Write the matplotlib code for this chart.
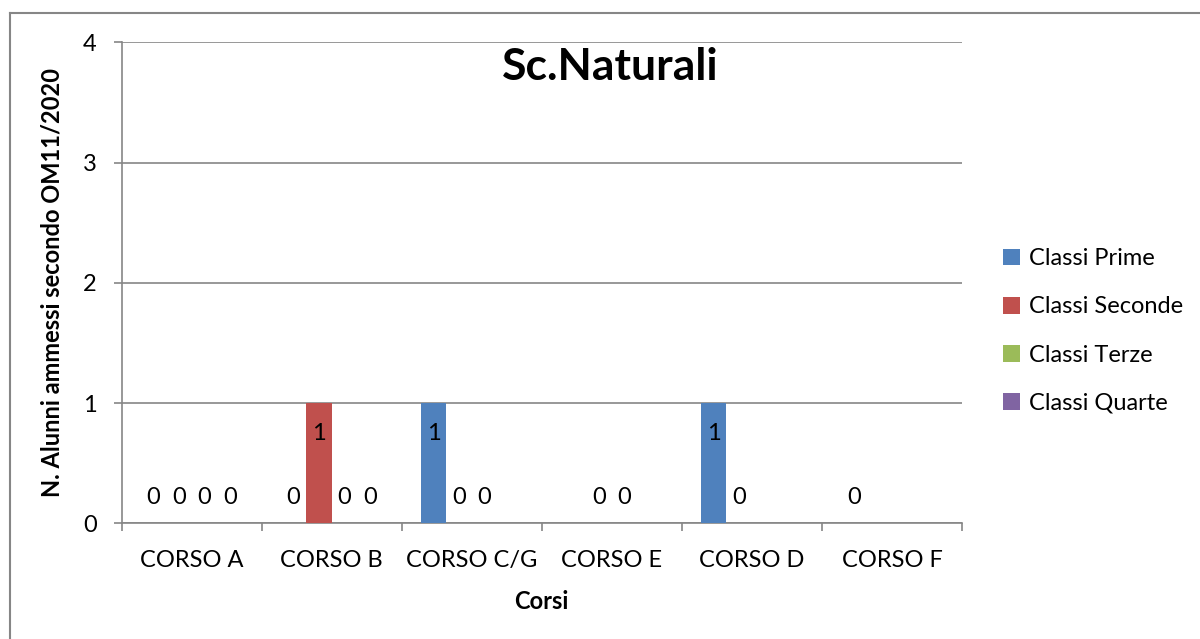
import numpy as np
import matplotlib
matplotlib.use("Agg")
import matplotlib.pyplot as plt
from matplotlib.patches import Patch
from matplotlib.lines import Line2D

plt.rcParams['font.family'] = ['Lato', 'DejaVu Sans']

categories = ["CORSO A", "CORSO B", "CORSO C/G", "CORSO E", "CORSO D", "CORSO F"]
series_names = ["Classi Prime", "Classi Seconde", "Classi Terze", "Classi Quarte"]
nan = np.nan
prime   = [0, 0, 1, nan, 1, 0]
seconde = [0, 1, 0, 0, 0, nan]
terze   = [0, 0, 0, 0, nan, nan]
quarte  = [0, 0, nan, nan, nan, nan]
series = [prime, seconde, terze, quarte]
colors = ["#4F81BD", "#C0504D", "#9BBB59", "#8064A2"]
yticks = [0, 1, 2, 3, 4]

FS = 17
fig = plt.figure(figsize=(12, 6.39), dpi=100)
ax = fig.add_axes([0.10125, 0.1808, 0.70045, 0.7527])

n = len(series)
x = np.arange(len(categories))
width = 1 / (n + 1.5)
for i, (vals, c, name) in enumerate(zip(series, colors, series_names)):
    pos = x + (i - (n - 1) / 2) * width
    v = np.array(vals, dtype=float)
    ax.bar(pos, np.nan_to_num(v), width=width, color=c, label=name, zorder=3)
    for px, val in zip(pos, v):
        if np.isnan(val):
            continue
        if val > 0:
            ax.annotate(f"{int(val)}", (px, val), xytext=(0, -22), textcoords="offset points",
                        ha="center", va="center", fontsize=FS, zorder=4)
        else:
            ax.annotate(f"{int(val)}", (px, val), xytext=(0, 19), textcoords="offset points",
                        ha="center", va="center", fontsize=FS, zorder=4)

ax.set_xlim(-0.5, len(categories) - 0.5)
ax.set_ylim(0, 4)
ax.set_yticks(yticks)
ax.set_yticklabels([str(t) for t in yticks], fontsize=FS)
ax.set_xticks(x)
ax.set_xticklabels(categories, fontsize=FS)
ax.tick_params(axis='x', length=0, pad=19)
ax.set_xticks(np.arange(len(categories) + 1) - 0.5, minor=True)
ax.tick_params(axis='x', which='minor', length=6, color='#868686', width=1.2)
ax.tick_params(axis='y', length=6, color='#868686', width=1.2, pad=12)
ax.grid(axis='y', color='#868686', linewidth=1.2, zorder=0)
for s in ['top', 'right']:
    ax.spines[s].set_visible(False)
for s in ['left', 'bottom']:
    ax.spines[s].set_color('#868686')
    ax.spines[s].set_linewidth(1.2)

ax.set_xlabel("Corsi", fontsize=FS, fontweight='bold', labelpad=14)
ax.set_ylabel("N. Alunni ammessi secondo OM11/2020", fontsize=FS, fontweight='bold', labelpad=14)
ax.text(0.581, 0.95, "Sc.Naturali", transform=ax.transAxes, ha="center", va="center",
        fontsize=32, fontweight='bold')

handles = [Patch(facecolor=c, edgecolor='none') for c in colors]
fig.legend(handles, series_names, loc='center left', bbox_to_anchor=(0.8185, 0.482),
           frameon=False, fontsize=FS, handlelength=0.72, handleheight=0.72,
           handletextpad=0.35, labelspacing=1.15)

# chart area border
fig.add_artist(Line2D([9.5 / 1200, 9.5 / 1200], [0, 1 - 13 / 639], transform=fig.transFigure,
                      color='#868686', linewidth=1.5))
fig.add_artist(Line2D([9.5 / 1200, 1], [1 - 13 / 639, 1 - 13 / 639], transform=fig.transFigure,
                      color='#868686', linewidth=1.5))

fig.savefig("out.png", dpi=100)
